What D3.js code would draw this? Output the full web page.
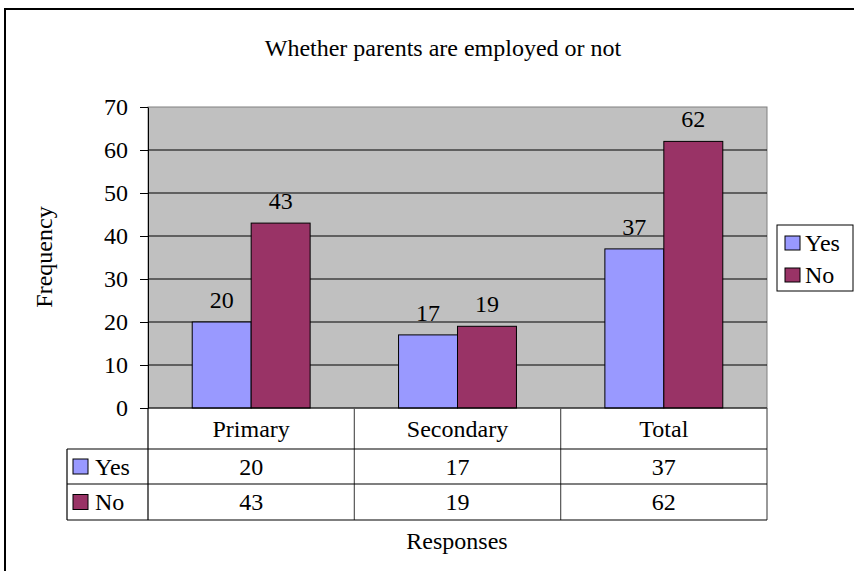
<!DOCTYPE html>
<meta charset="utf-8">
<style>
    body { margin: 0; background: #fff; }
    svg text { font-family: "Liberation Serif", "DejaVu Serif", serif; fill: #000; }
</style>
<body>
<div id="chart"></div>
<script src="https://cdn.jsdelivr.net/npm/d3@7/dist/d3.min.js"></script>
<script>
    // chart data
    const categories = ["Primary", "Secondary", "Total"];
    const seriesNames = ["Yes", "No"];
    const yesValues = [20, 17, 37];
    const noValues = [43, 19, 62];
    const yTicks = [0, 10, 20, 30, 40, 50, 60, 70];
    const seriesColors = ["#9999ff", "#993366"];

    const width = 854, height = 571;
    const plot = {left: 148, right: 767, top: 107, bottom: 408};
    const fontSize = 24;
    const serif = '"Liberation Serif", "DejaVu Serif", serif';

    const svg = d3.select("#chart").append("svg")
        .attr("width", width)
        .attr("height", height)
        .attr("font-family", serif);

    // outer frame (runs past the right and bottom edges)
    svg.append("rect")
        .attr("x", 5).attr("y", 9)
        .attr("width", width + 10).attr("height", height + 10)
        .attr("fill", "none").attr("stroke", "#000").attr("stroke-width", 2);

    svg.append("text")
        .attr("x", 443).attr("y", 56)
        .attr("text-anchor", "middle")
        .style("font-size", fontSize + "px")
        .text("Whether parents are employed or not");

    const x0 = d3.scaleBand().domain(categories).range([plot.left, plot.right]);
    // bars are 1/3.5 of the category: two bars plus a 150% gap
    const barW = x0.bandwidth() / 3.5;
    const x1 = d3.scaleBand().domain(seriesNames).range([0, barW * 2]);
    const y = d3.scaleLinear().domain([0, 70]).range([plot.bottom, plot.top]);

    svg.append("rect")
        .attr("x", plot.left).attr("y", plot.top)
        .attr("width", plot.right - plot.left).attr("height", plot.bottom - plot.top)
        .attr("fill", "#c0c0c0").attr("stroke", "#808080").attr("stroke-width", 1);

    // gridlines
    svg.append("g").selectAll("line")
        .data(yTicks.filter(d => d > 0 && d < 70))
        .enter().append("line")
        .attr("x1", plot.left).attr("x2", plot.right)
        .attr("y1", d => y(d)).attr("y2", d => y(d))
        .attr("stroke", "#000").attr("stroke-width", 1);

    // y axis
    const yAxis = svg.append("g")
        .attr("transform", `translate(${plot.left},0)`)
        .call(d3.axisLeft(y).tickValues(yTicks).tickSize(8).tickPadding(12).tickSizeOuter(0));
    yAxis.attr("font-family", serif);
    yAxis.select(".domain").attr("stroke", "#000");
    yAxis.selectAll(".tick line").attr("stroke", "#000");
    yAxis.selectAll("text")
        .style("font-size", fontSize + "px")
        .attr("fill", "#000");

    const rows = categories.map((c, i) => ({cat: c, values: [yesValues[i], noValues[i]]}));

    const groups = svg.append("g").selectAll("g")
        .data(rows)
        .enter().append("g")
        .attr("transform", d => `translate(${x0(d.cat) + x0.bandwidth() / 2 - barW},0)`);

    groups.selectAll("rect")
        .data(d => d.values.map((v, j) => ({key: seriesNames[j], value: v, j: j})))
        .enter().append("rect")
        .attr("x", d => x1(d.key))
        .attr("y", d => y(d.value))
        .attr("width", x1.bandwidth())
        .attr("height", d => y(0) - y(d.value))
        .attr("fill", d => seriesColors[d.j])
        .attr("stroke", "#000").attr("stroke-width", 1);

    groups.selectAll("text")
        .data(d => d.values.map((v, j) => ({key: seriesNames[j], value: v})))
        .enter().append("text")
        .attr("x", d => x1(d.key) + x1.bandwidth() / 2)
        .attr("y", d => y(d.value) - 14)
        .attr("text-anchor", "middle")
        .style("font-size", fontSize + "px")
        .text(d => d.value);

    // x axis line
    svg.append("line")
        .attr("x1", plot.left).attr("x2", plot.right)
        .attr("y1", plot.bottom).attr("y2", plot.bottom)
        .attr("stroke", "#000");

    // data table under the chart
    const tbl = svg.append("g");
    const tableLeft = 67, rowH = [408, 449, 484, 520];
    const lineStyle = sel => sel.attr("stroke", "#000").attr("stroke-width", 1.2);

    tbl.append("line").attr("x1", plot.left).attr("x2", plot.left).attr("y1", rowH[0]).attr("y2", rowH[3]).call(lineStyle);
    tbl.append("line").attr("x1", tableLeft).attr("x2", tableLeft).attr("y1", rowH[1]).attr("y2", rowH[3]).call(lineStyle);
    tbl.selectAll(".vline")
        .data(categories)
        .enter().append("line")
        .attr("class", "vline")
        .attr("x1", d => x0(d) + x0.bandwidth()).attr("x2", d => x0(d) + x0.bandwidth())
        .attr("y1", rowH[0]).attr("y2", rowH[3])
        .call(lineStyle).attr("stroke", "#555");
    [1, 2, 3].forEach(i => {
        tbl.append("line").attr("x1", tableLeft).attr("x2", plot.right)
            .attr("y1", rowH[i]).attr("y2", rowH[i]).call(lineStyle);
    });

    tbl.selectAll(".cat")
        .data(categories)
        .enter().append("text")
        .attr("class", "cat")
        .attr("x", d => x0(d) + x0.bandwidth() / 2)
        .attr("y", (rowH[0] + rowH[1]) / 2 + 8)
        .attr("text-anchor", "middle")
        .style("font-size", fontSize + "px")
        .text(d => d);

    [yesValues, noValues].forEach((vals, r) => {
        const cy = (rowH[r + 1] + rowH[r + 2]) / 2;
        tbl.append("rect")
            .attr("x", 73).attr("y", cy - 7.5)
            .attr("width", 15).attr("height", 15)
            .attr("fill", seriesColors[r]).attr("stroke", "#000");
        tbl.append("text")
            .attr("x", 95).attr("y", cy + 8)
            .style("font-size", fontSize + "px")
            .text(seriesNames[r]);
        tbl.selectAll(".v" + r)
            .data(vals)
            .enter().append("text")
            .attr("x", (d, i) => x0(categories[i]) + x0.bandwidth() / 2)
            .attr("y", cy + 8)
            .attr("text-anchor", "middle")
            .style("font-size", fontSize + "px")
            .text(d => d);
    });

    svg.append("text")
        .attr("x", 457).attr("y", 549)
        .attr("text-anchor", "middle")
        .style("font-size", fontSize + "px")
        .text("Responses");

    svg.append("text")
        .attr("transform", "translate(52,257) rotate(-90)")
        .attr("text-anchor", "middle")
        .style("font-size", fontSize + "px")
        .text("Frequency");

    // legend
    const legend = svg.append("g");
    legend.append("rect")
        .attr("x", 777).attr("y", 225).attr("width", 76).attr("height", 66)
        .attr("fill", "#fff").attr("stroke", "#000");
    seriesNames.forEach((s, i) => {
        const ly = 243 + i * 32;
        legend.append("rect")
            .attr("x", 785).attr("y", ly - 7).attr("width", 15).attr("height", 14)
            .attr("fill", seriesColors[i]).attr("stroke", "#000");
        legend.append("text")
            .attr("x", 805).attr("y", ly + 8)
            .style("font-size", fontSize + "px")
            .text(s);
    });
</script>
</body>
